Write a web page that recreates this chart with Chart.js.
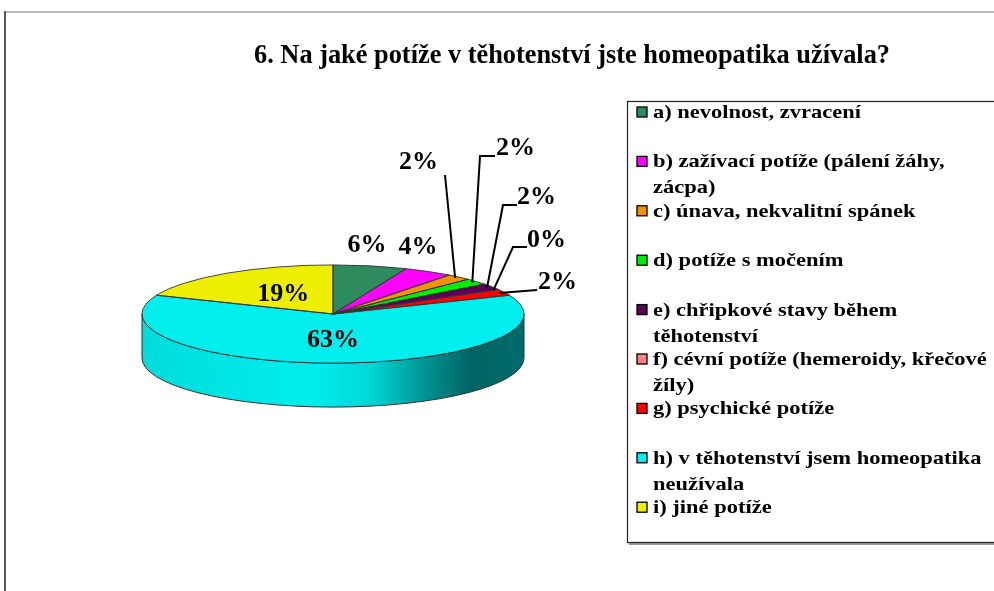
<!DOCTYPE html>
<html>
<head>
<meta charset="utf-8">
<script src="https://cdn.jsdelivr.net/npm/chart.js@4.4.1/dist/chart.umd.min.js"></script>
<style>
  html, body { margin: 0; background: #fff; }
  canvas { display: block; }
</style>
</head>
<body>
<canvas id="chart" width="994" height="591"></canvas>
<script>
// chart data
const chartTitle = '6. Na jaké potíže v těhotenství jste homeopatika užívala?';
const categories = [
  'a) nevolnost, zvracení',
  'b) zažívací potíže (pálení žáhy, zácpa)',
  'c) únava, nekvalitní spánek',
  'd) potíže s močením',
  'e) chřipkové stavy během těhotenství',
  'f) cévní potíže (hemeroidy, křečové žíly)',
  'g) psychické potíže',
  'h) v těhotenství jsem homeopatika neužívala',
  'i) jiné potíže',
];
const answers = [3, 2, 1, 1, 1, 0, 1, 30, 9];
const sliceColors = ['#2e8b5e', '#ff00ff', '#f39200', '#00ee00', '#5c005c', '#ff8080', '#ff0000', '#00eeee', '#eeee00'];

const SERIF = '"Liberation Serif", "Times New Roman", serif';
const TILT = 0.257;   // ellipse height / width
const DEPTH = 44;     // thickness of the pie side

// where Excel put each percentage label: inside the slice, just above the rim, or out on a leader line
const labelLayout = [
  { at: [367, 246] },
  { at: [418, 248] },
  { at: [438, 163], align: 'right', leader: [[445, 175]] },
  { at: [496, 149], align: 'left', leader: [[480, 156], [495, 156]] },
  { at: [517, 198], align: 'left', leader: [[503, 205], [517, 205]] },
  { at: [527, 241], align: 'left', leader: [[513, 247], [527, 247]] },
  { at: [538, 283], align: 'left', leader: [[537, 290]] },
  { inside: 0.54 },
  { inside: 0.47 },
];

const total = answers.reduce((a, b) => a + b, 0);
const percents = answers.map((v) => Math.round((v / total) * 100) + '%');

function shade(hex, f) {
  const n = parseInt(hex.slice(1), 16);
  const c = [(n >> 16) & 255, (n >> 8) & 255, n & 255].map((v) => Math.min(255, Math.round(v * f)));
  return `rgb(${c[0]},${c[1]},${c[2]})`;
}

function stretchedText(ctx, text, x, y, font, align, sx) {
  ctx.save();
  ctx.font = font;
  ctx.textAlign = align;
  ctx.textBaseline = 'middle';
  ctx.translate(x, y);
  ctx.scale(sx, 1);
  ctx.fillStyle = '#000';
  ctx.fillText(text, 0, 0);
  ctx.restore();
}

function wrapText(ctx, text, maxW, sx) {
  const words = text.split(' ');
  const lines = [];
  let line = '';
  words.forEach((w) => {
    const test = line ? line + ' ' + w : w;
    if (line && ctx.measureText(test).width * sx > maxW) {
      lines.push(line);
      line = w;
    } else {
      line = test;
    }
  });
  lines.push(line);
  return lines;
}

const pie3d = {
  id: 'pie3d',
  beforeDraw(chart) {
    const ctx = chart.ctx;
    ctx.save();
    ctx.fillStyle = '#fff';
    ctx.fillRect(0, 0, chart.width, chart.height);
    ctx.fillStyle = '#b8b8b8';
    ctx.fillRect(5, 11, chart.width - 5, 2);
    ctx.fillStyle = '#555';
    ctx.fillRect(4, 11, 2, chart.height - 11);
    ctx.restore();
  },
  beforeDatasetsDraw(chart) {
    const ctx = chart.ctx;
    const arcs = chart.getDatasetMeta(0).data;
    const { x: cx, y: cy, outerRadius: r } = arcs[0];
    const ry = r * TILT;

    // side wall: the part of each slice facing the viewer (angles 0..PI)
    const grad = (base) => {
      const g = ctx.createLinearGradient(cx - r, 0, cx + r, 0);
      [[0, 0.92], [0.45, 1.0], [0.6, 0.9], [0.75, 0.6], [0.86, 0.42], [1, 0.45]]
        .forEach(([p, f]) => g.addColorStop(p, shade(base, f)));
      return g;
    };
    ctx.save();
    arcs.forEach((arc, i) => {
      const a0 = Math.max(arc.startAngle, 0);
      const a1 = Math.min(arc.endAngle, Math.PI);
      if (a1 <= a0) return;
      ctx.beginPath();
      ctx.ellipse(cx, cy, r, ry, 0, a0, a1, false);
      ctx.lineTo(cx + r * Math.cos(a1), cy + ry * Math.sin(a1) + DEPTH);
      ctx.ellipse(cx, cy + DEPTH, r, ry, 0, a1, a0, true);
      ctx.closePath();
      ctx.fillStyle = grad(sliceColors[i]);
      ctx.fill();
      ctx.lineWidth = 1;
      ctx.strokeStyle = '#333';
      ctx.stroke();
    });
    ctx.restore();

    // squash the library's circular pie into the top face ellipse
    ctx.save();
    ctx.translate(0, cy);
    ctx.scale(1, TILT);
    ctx.translate(0, -cy);
  },
  afterDatasetsDraw(chart) {
    const ctx = chart.ctx;
    ctx.restore();
    const arcs = chart.getDatasetMeta(0).data;
    const { x: cx, y: cy, outerRadius: r } = arcs[0];
    const ry = r * TILT;

    // slice outlines on the top face
    ctx.save();
    ctx.strokeStyle = '#333';
    ctx.lineWidth = 0.9;
    arcs.forEach((arc) => {
      if (arc.endAngle - arc.startAngle <= 0) return;
      ctx.beginPath();
      ctx.moveTo(cx, cy);
      ctx.lineTo(cx + r * Math.cos(arc.startAngle), cy + ry * Math.sin(arc.startAngle));
      ctx.ellipse(cx, cy, r, ry, 0, arc.startAngle, arc.endAngle, false);
      ctx.closePath();
      ctx.stroke();
    });
    ctx.restore();

    // percentage labels
    const font = `bold 25px ${SERIF}`;
    ctx.save();
    arcs.forEach((arc, i) => {
      const lay = labelLayout[i];
      const mid = (arc.startAngle + arc.endAngle) / 2;
      if (lay.inside) {
        const x = cx + r * lay.inside * Math.cos(mid);
        const y = cy + ry * lay.inside * Math.sin(mid);
        stretchedText(ctx, percents[i], x, y, font, 'center', 1.04);
        return;
      }
      if (lay.leader) {
        ctx.beginPath();
        ctx.moveTo(cx + r * 0.97 * Math.cos(mid), cy + ry * 0.97 * Math.sin(mid));
        lay.leader.forEach(([x, y]) => ctx.lineTo(x, y));
        ctx.strokeStyle = '#000';
        ctx.lineWidth = 2;
        ctx.stroke();
      }
      stretchedText(ctx, percents[i], lay.at[0], lay.at[1], font, lay.align || 'center', 1.04);
    });
    ctx.restore();
  },
  afterDraw(chart) {
    const ctx = chart.ctx;

    // title
    const tfont = `bold 28px ${SERIF}`;
    ctx.save();
    ctx.font = tfont;
    const tsx = 636 / ctx.measureText(chartTitle).width;
    ctx.restore();
    stretchedText(ctx, chartTitle, 572, 56, tfont, 'center', tsx);

    // legend box
    ctx.save();
    ctx.fillStyle = '#999';
    ctx.fillRect(629, 543, chart.width, 2);
    ctx.strokeStyle = '#222';
    ctx.lineWidth = 1.2;
    ctx.strokeRect(627.5, 101.5, chart.width, 441);

    const lfont = `bold 19px ${SERIF}`;
    ctx.font = lfont;
    const lsx = 208 / ctx.measureText(categories[0]).width;
    categories.forEach((name, i) => {
      const y = 113 + i * 49.4;
      ctx.fillStyle = sliceColors[i];
      ctx.fillRect(637, y - 6, 10, 10);
      ctx.strokeStyle = '#000';
      ctx.lineWidth = 1.3;
      ctx.strokeRect(637, y - 6, 10, 10);
      ctx.font = lfont;
      wrapText(ctx, name, 342, lsx).forEach((line, k) => {
        stretchedText(ctx, line, 653, y + k * 26, lfont, 'left', lsx);
      });
    });
    ctx.restore();
  },
};

new Chart(document.getElementById('chart'), {
  type: 'pie',
  data: {
    labels: categories,
    datasets: [{
      data: answers,
      backgroundColor: sliceColors,
      borderWidth: 0,
      clip: false,
    }],
  },
  options: {
    responsive: false,
    animation: false,
    devicePixelRatio: 1,
    layout: { padding: { left: 142, right: 470, top: 123, bottom: 86 } },
    plugins: {
      legend: { display: false },
      title: { display: false },
      tooltip: { enabled: false },
    },
  },
  plugins: [pie3d],
});
</script>
</body>
</html>
